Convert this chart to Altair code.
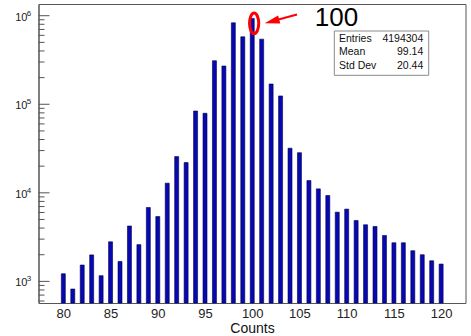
import altair as alt
import pandas as pd

bins = list(range(80, 121))
counts = [1220, 820, 1530, 1990, 1160, 2800, 1680, 4220, 2600, 6830, 5400,
          12850, 25650, 21970, 83900, 79100, 310400, 270300, 831000, 578000, 933000,
          544000, 169400, 124200, 31900, 28400, 13770, 11090, 9330, 6050, 6550,
          4870, 4360, 4170, 3300, 2730, 2730, 2220, 2000, 1710, 1570]

x_domain = [77.9, 122.05]
y_domain = [570, 1.356e6]
x_ticks = [80, 85, 90, 95, 100, 105, 110, 115, 120]
y_major = [1e3, 1e4, 1e5, 1e6]
y_exponents = ["3", "4", "5", "6"]
y_minor = [m * d for d in [100, 1000, 10000, 100000, 1000000] for m in range(2, 10)
           if y_domain[0] <= m * d <= y_domain[1]]

stat_names = ["Entries", "Mean", "Std Dev"]
stat_values = ["4194304", "99.14", "20.44"]

W, H = 427, 299
FONT = "Liberation Sans"

df = pd.DataFrame({"bin": bins, "count": counts, "base": [y_domain[0]] * len(bins)})

xs = alt.Scale(domain=x_domain, nice=False, zero=False)
ys = alt.Scale(type="log", domain=y_domain, nice=False)

bars = alt.Chart(df).mark_bar(width=4, color="#0707b3", stroke="#00004a", strokeWidth=0.6).encode(
    x=alt.X("bin:Q", scale=xs,
            axis=alt.Axis(values=x_ticks, ticks=False, grid=False, labelFontSize=13,
                          labelFont=FONT, labelColor="#222", labelPadding=4,
                          domainColor="#555", title="Counts", titleFont=FONT,
                          titleFontSize=14, titleFontWeight="normal", titleColor="#111",
                          titlePadding=1)),
    y=alt.Y("count:Q", scale=ys,
            axis=alt.Axis(values=y_major, ticks=False, grid=False, labelFontSize=11,
                          labelFont=FONT, labelColor="#222", labelPadding=11.5,
                          labelOffset=1.5,
                          domainColor="#555", title=None,
                          labelExpr="'10'")),
    y2="base:Q",
)

exp_df = pd.DataFrame({"t": y_major, "e": y_exponents})
exponents = alt.Chart(exp_df).mark_text(fontSize=8, font=FONT, color="#222",
                                        align="center", baseline="middle", dy=-2).encode(
    y=alt.Y("t:Q", scale=ys), x=alt.value(-9.6), text="e:N")

major_df = pd.DataFrame({"t": y_major})
minor_df = pd.DataFrame({"t": y_minor})
major_ticks = alt.Chart(major_df).mark_rule(color="#555", strokeWidth=1).encode(
    y=alt.Y("t:Q", scale=ys), x=alt.value(0), x2=alt.value(11))
minor_ticks = alt.Chart(minor_df).mark_rule(color="#555", strokeWidth=1).encode(
    y=alt.Y("t:Q", scale=ys), x=alt.value(0), x2=alt.value(6))

# annotation: ellipse around bin 100, arrow and label
ann_ell = pd.DataFrame({"x": [100.2], "y": [8.2e5]})
ellipse = alt.Chart(ann_ell).mark_point(
    shape="M 0 -1 A 0.45 1 0 1 1 0 1 A 0.45 1 0 1 1 0 -1 Z",
    size=420, filled=False, stroke="#ff0000", strokeWidth=3, opacity=1).encode(
    x=alt.X("x:Q", scale=xs), y=alt.Y("y:Q", scale=ys))

arrow_line_df = pd.DataFrame({"x": [104.74], "y": [1.032e6], "x2": [101.9], "y2": [8.55e5]})
arrow_line = alt.Chart(arrow_line_df).mark_rule(color="#ff0000", strokeWidth=2).encode(
    x=alt.X("x:Q", scale=xs), y=alt.Y("y:Q", scale=ys), x2="x2:Q", y2="y2:Q")

arrow_head_df = pd.DataFrame({"x": [101.32], "y": [8.21e5]})
arrow_head = alt.Chart(arrow_head_df).mark_point(
    shape="M 0 0 L 2 -0.55 L 2 0.55 Z", size=225, filled=True, color="#ff0000",
    angle=345, opacity=1).encode(
    x=alt.X("x:Q", scale=xs), y=alt.Y("y:Q", scale=ys))

label_df = pd.DataFrame({"x": [108.92], "y": [7.65e5], "t": ["100"]})
label = alt.Chart(label_df).mark_text(fontSize=26, font=FONT, color="#000",
                                      align="center", baseline="alphabetic").encode(
    x=alt.X("x:Q", scale=xs), y=alt.Y("y:Q", scale=ys), text="t:N")

# statistics box
box = alt.Chart(pd.DataFrame({"a": [0]})).mark_rect(fill="white", stroke="#8a8a8a", strokeWidth=1).encode(
    x=alt.value(295.8), x2=alt.value(390.2), y=alt.value(27), y2=alt.value(71.3))
stats_df = pd.DataFrame({"name": stat_names, "val": stat_values, "row": [35.3, 48.3, 61.7]})
stat_names_t = alt.Chart(stats_df).mark_text(fontSize=10.5, font=FONT, color="#111",
                                             align="left", baseline="middle").encode(
    x=alt.value(300.5), y=alt.Y("row:Q", scale=None), text="name:N")
stat_vals_t = alt.Chart(stats_df).mark_text(fontSize=10.5, font=FONT, color="#111",
                                            align="right", baseline="middle").encode(
    x=alt.value(384.8), y=alt.Y("row:Q", scale=None), text="val:N")

chart = alt.layer(bars, exponents, major_ticks, minor_ticks, arrow_line, arrow_head, ellipse, label,
                  box, stat_names_t, stat_vals_t).properties(
    width=W, height=H,
    autosize=alt.AutoSizeParams(type="none"),
    padding={"left": 38.5, "top": 4, "right": 5.5, "bottom": 33},
    background="white",
).configure_view(stroke="#555", strokeWidth=1)

chart.save("out.html", embed_options={"renderer": "svg", "actions": False})
